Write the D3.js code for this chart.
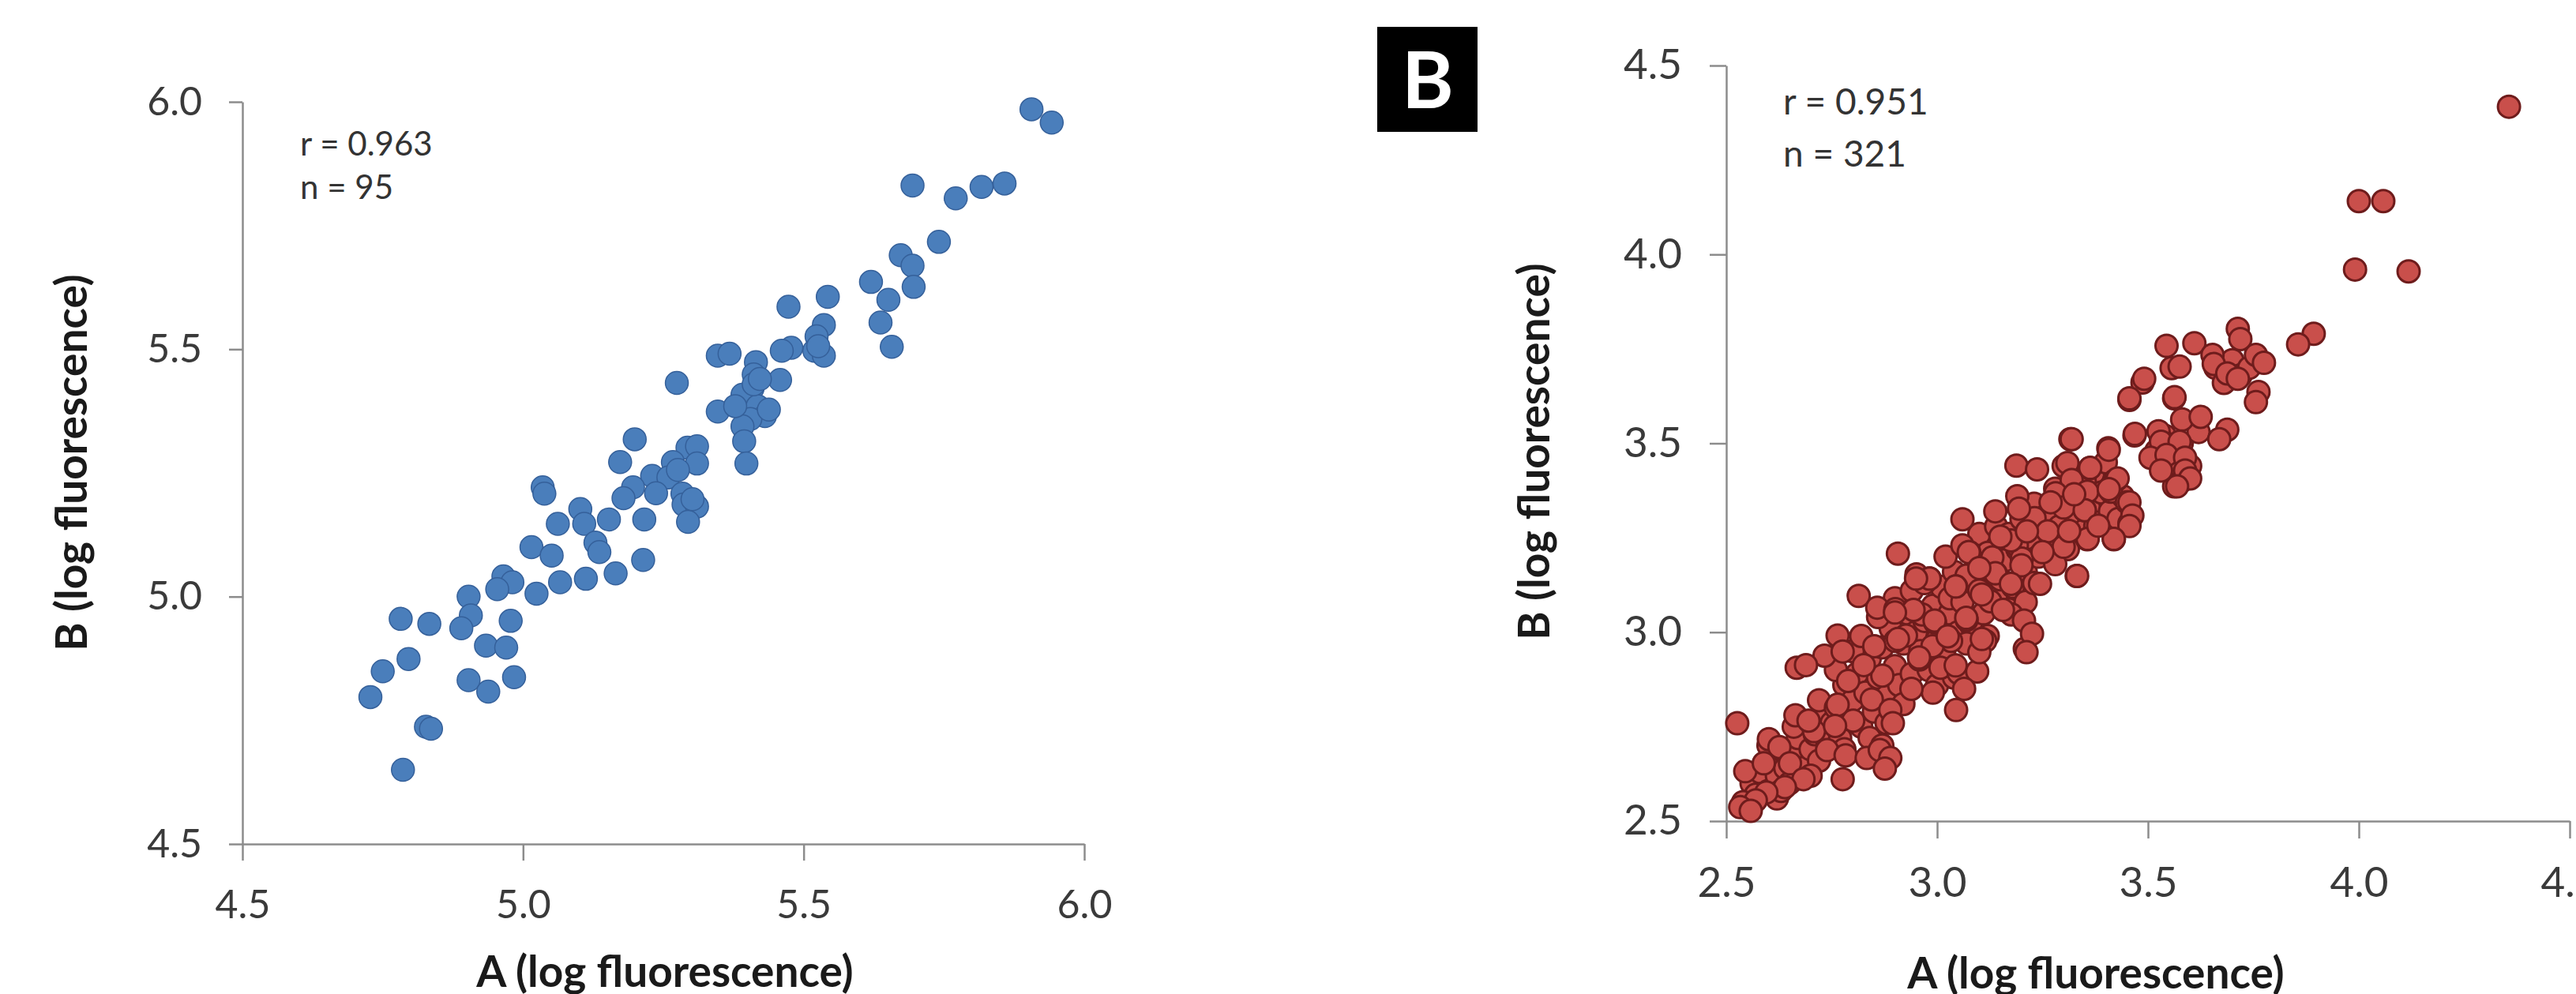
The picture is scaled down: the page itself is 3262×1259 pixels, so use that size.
<!doctype html>
<html lang="en">
  <head>
    <meta charset="UTF-8" />
    <title>A vs B log fluorescence</title>
    <script src="https://d3js.org/d3.v7.min.js"></script>
    <style>
      body {
        margin: 0;
        padding: 0;
        background: #fff;
      }

      .axis path,
      .axis line {
        fill: none;
        stroke: #8c8c8c;
        stroke-width: 2.5px;
      }

      .axis text {
        font-family: Lato, 'Open Sans', sans-serif;
        fill: #3a3a3a;
      }

      .title {
        font-family: Lato, 'Open Sans', sans-serif;
        font-weight: bold;
        font-size: 55px;
        fill: #1a1a1a;
      }

      .stat {
        font-family: Lato, 'Open Sans', sans-serif;
        fill: #333;
      }
    </style>
  </head>
  <body>
    <svg id="chart" width="3262" height="1259"></svg>

    <script>
      // panel A (left): 95 points
      const leftTicks = [4.5, 5.0, 5.5, 6.0];
      const leftStats = ['r = 0.963', 'n = 95'];
      const leftPoints = [
        [5.906, 5.985], [5.942, 5.958], [5.694, 5.831], [5.771, 5.805],
        [5.817, 5.828], [5.858, 5.835], [5.741, 5.717], [5.673, 5.69],
        [5.694, 5.669], [5.696, 5.626], [5.62, 5.636], [5.651, 5.6],
        [5.543, 5.606], [5.473, 5.586], [5.637, 5.554], [5.657, 5.505],
        [5.536, 5.549], [5.523, 5.526], [5.519, 5.497], [5.536, 5.487],
        [5.478, 5.503], [5.461, 5.497], [5.458, 5.438], [5.415, 5.474],
        [5.411, 5.449], [5.409, 5.421], [5.347, 5.487], [5.368, 5.491],
        [5.274, 5.432], [5.391, 5.408], [5.418, 5.385], [5.431, 5.365],
        [5.347, 5.374], [5.405, 5.359], [5.391, 5.344], [5.394, 5.314],
        [5.398, 5.269], [5.199, 5.318], [5.173, 5.272], [5.293, 5.301],
        [5.31, 5.304], [5.267, 5.272], [5.31, 5.269], [5.23, 5.244],
        [5.259, 5.241], [5.196, 5.221], [5.237, 5.209], [5.179, 5.199],
        [5.284, 5.208], [5.286, 5.186], [5.31, 5.182], [5.294, 5.151],
        [5.216, 5.156], [5.035, 5.221], [5.038, 5.208], [5.102, 5.177],
        [5.109, 5.147], [5.153, 5.156], [5.062, 5.147], [5.129, 5.109],
        [5.136, 5.09], [5.214, 5.074], [5.015, 5.1], [5.051, 5.083],
        [5.165, 5.047], [5.066, 5.029], [5.112, 5.036], [4.965, 5.041],
        [4.981, 5.029], [4.954, 5.015], [5.024, 5.006], [4.903, 5.0],
        [4.907, 4.962], [4.89, 4.936], [4.978, 4.951], [4.934, 4.901],
        [4.97, 4.897], [4.782, 4.955], [4.833, 4.945], [4.796, 4.874],
        [4.75, 4.849], [4.728, 4.797], [4.903, 4.831], [4.938, 4.808],
        [4.984, 4.837], [4.827, 4.737], [4.836, 4.733], [4.786, 4.65],
        [5.411, 5.429], [5.422, 5.44], [5.378, 5.385], [5.438, 5.378],
        [5.526, 5.506], [5.276, 5.256], [5.302, 5.197],
      ];

      // panel B (right): 321 points, split by region
      const rightTicks = [2.5, 3.0, 3.5, 4.0, 4.5];
      const rightStats = ['r = 0.951', 'n = 321'];

      // points mostly hidden inside the dense band
      const rightCore = [
        [2.56, 2.6], [2.58, 2.63], [2.6, 2.58], [2.61, 2.66], [2.62, 2.62],
        [2.63, 2.69], [2.64, 2.64], [2.65, 2.6], [2.57, 2.57], [2.6, 2.7],
        [2.62, 2.56], [2.66, 2.67], [2.67, 2.72], [2.68, 2.64], [2.69, 2.76],
        [2.7, 2.69], [2.71, 2.73], [2.72, 2.66], [2.73, 2.79], [2.74, 2.71],
        [2.7, 2.62], [2.75, 2.76], [2.66, 2.75], [2.72, 2.82], [2.76, 2.8],
        [2.77, 2.72], [2.78, 2.86], [2.79, 2.77], [2.8, 2.82], [2.81, 2.89],
        [2.82, 2.75], [2.83, 2.84], [2.84, 2.93], [2.85, 2.79], [2.78, 2.69],
        [2.8, 2.95], [2.82, 2.99], [2.84, 2.72], [2.76, 2.9], [2.86, 2.88],
        [2.87, 2.96], [2.88, 2.83], [2.89, 3.01], [2.9, 2.91], [2.91, 2.86],
        [2.92, 2.97], [2.93, 3.05], [2.94, 2.89], [2.95, 3.0], [2.86, 3.04],
        [2.88, 2.76], [2.9, 3.09], [2.92, 2.81], [2.94, 3.11], [2.87, 2.7],
        [2.96, 2.95], [2.97, 3.03], [2.98, 2.9], [2.99, 3.07], [3.0, 2.98],
        [3.01, 3.12], [3.02, 2.93], [3.03, 3.05], [3.04, 3.16], [3.05, 3.0],
        [2.97, 3.13], [3.0, 2.86], [3.02, 3.2], [3.04, 2.88], [2.99, 2.84],
        [3.03, 3.09], [3.06, 3.08], [3.07, 3.15], [3.08, 3.02], [3.09, 3.2],
        [3.1, 3.11], [3.11, 3.05], [3.12, 3.17], [3.13, 3.24], [3.14, 3.09],
        [3.15, 3.14], [3.07, 2.97], [3.1, 3.26], [3.12, 2.99], [3.14, 3.28],
        [3.06, 3.23], [3.16, 3.19], [3.17, 3.26], [3.18, 3.12], [3.19, 3.22],
        [3.2, 3.3], [3.21, 3.16], [3.22, 3.25], [3.23, 3.34], [3.24, 3.2],
        [3.25, 3.28], [3.17, 3.06], [3.19, 3.36], [3.21, 3.08], [3.23, 3.13],
        [3.26, 3.31], [3.27, 3.24], [3.28, 3.38], [3.29, 3.28], [3.3, 3.34],
        [3.31, 3.22], [3.32, 3.4], [3.33, 3.3], [3.34, 3.36], [3.35, 3.27],
        [3.28, 3.18], [3.3, 3.44], [3.36, 3.33], [3.37, 3.42], [3.38, 3.29],
        [3.39, 3.37], [3.4, 3.45], [3.41, 3.32], [3.42, 3.4], [3.43, 3.3],
        [3.44, 3.36], [3.52, 3.48], [3.54, 3.52], [3.56, 3.45], [3.58, 3.5],
        [3.6, 3.44], [3.62, 3.53], [3.66, 3.7], [3.7, 3.72], [3.72, 3.68],
        [3.74, 3.7], [3.68, 3.66], [3.58, 3.4], [2.54, 2.55], [2.63, 2.58],
        [3.12, 3.21], [3.35, 3.4],
      ];

      const rightLower = [
        [2.526, 2.759], [2.814, 3.096], [2.858, 3.065], [2.901, 3.061],
        [2.764, 2.991], [2.733, 2.938], [2.776, 2.949], [2.667, 2.906],
        [2.689, 2.913], [2.951, 3.153], [2.982, 3.142], [3.076, 3.212],
        [3.139, 3.156], [3.045, 3.121], [3.07, 3.033], [2.995, 3.026],
        [2.901, 2.977], [2.851, 2.963], [2.958, 2.928], [3.008, 2.906],
        [3.051, 2.892], [3.095, 2.896], [3.064, 2.85], [3.045, 2.794],
        [2.939, 2.85], [2.87, 2.885], [2.789, 2.871], [2.845, 2.822],
        [2.889, 2.794], [2.895, 2.759], [2.764, 2.808], [2.801, 2.766],
        [2.664, 2.78], [2.708, 2.738], [2.758, 2.752], [2.601, 2.717],
        [2.626, 2.696], [2.739, 2.688], [2.783, 2.674], [2.833, 2.667],
        [2.864, 2.688], [2.889, 2.667], [2.876, 2.639], [2.776, 2.611],
        [2.545, 2.632], [2.589, 2.653], [2.651, 2.653], [2.683, 2.611],
        [2.639, 2.59], [2.595, 2.576], [2.57, 2.555], [2.533, 2.537],
        [2.558, 2.527], [2.695, 2.766], [2.926, 2.991], [3.114, 2.977],
        [3.176, 3.047], [3.189, 3.23], [3.126, 3.082], [3.033, 2.977],
        [2.964, 3.047], [2.989, 2.963], [2.826, 2.913], [3.208, 2.956],
        [3.126, 3.165], [3.201, 3.195],
      ];

      const rightMiddle = [
        [3.456, 3.615], [3.487, 3.661], [3.562, 3.619], [3.468, 3.521],
        [3.531, 3.511], [3.518, 3.462], [3.556, 3.448], [3.562, 3.386],
        [3.316, 3.511], [3.406, 3.487], [3.188, 3.441], [3.237, 3.431],
        [3.309, 3.448], [3.362, 3.434], [3.425, 3.403], [3.319, 3.403],
        [3.281, 3.368], [3.356, 3.372], [3.412, 3.372], [3.45, 3.344],
        [3.456, 3.288], [3.419, 3.246], [3.35, 3.323], [3.3, 3.33],
        [3.231, 3.302], [3.138, 3.32], [3.06, 3.299], [2.907, 3.208],
        [3.194, 3.327], [3.262, 3.267], [3.175, 3.243], [3.356, 3.246],
        [3.3, 3.226], [3.331, 3.149], [3.25, 3.212], [3.2, 3.177],
        [3.131, 3.198], [3.075, 3.212], [3.138, 3.156], [3.244, 3.128],
        [3.044, 3.121], [2.982, 3.142], [2.95, 3.142], [3.156, 3.059],
        [3.206, 3.031], [3.225, 2.996], [3.212, 2.947], [3.069, 3.038],
        [2.994, 3.031], [2.944, 3.059], [2.9, 3.052], [2.907, 2.982],
        [2.957, 2.933], [3.044, 2.912], [3.1, 2.947], [3.106, 2.982],
        [3.106, 3.1], [3.025, 2.989], [3.375, 3.281], [3.213, 3.267],
        [3.15, 3.253], [3.1, 3.17], [3.175, 3.128], [3.269, 3.344],
      ];

      const rightUpper = [
        [3.713, 3.803], [3.893, 3.79], [3.856, 3.762], [3.719, 3.776],
        [3.756, 3.734], [3.775, 3.713], [3.544, 3.758], [3.61, 3.765],
        [3.653, 3.734], [3.656, 3.71], [3.688, 3.685], [3.713, 3.671],
        [3.556, 3.699], [3.575, 3.703], [3.762, 3.636], [3.756, 3.609],
        [3.491, 3.671], [3.456, 3.619], [3.563, 3.622], [3.581, 3.563],
        [3.625, 3.57], [3.688, 3.536], [3.669, 3.511], [3.469, 3.525],
        [3.525, 3.532], [3.531, 3.504], [3.575, 3.504], [3.506, 3.462],
        [3.544, 3.469], [3.588, 3.462], [3.588, 3.428], [3.6, 3.407],
        [3.569, 3.386], [3.531, 3.428], [3.319, 3.511], [3.407, 3.483],
        [3.363, 3.435], [3.428, 3.407], [3.407, 3.379], [3.456, 3.344],
        [3.463, 3.309], [3.456, 3.281], [3.419, 3.247], [3.357, 3.247],
        [3.313, 3.268], [3.35, 3.323], [3.332, 3.149], [3.325, 3.365],
        [3.382, 3.282],
      ];

      const rightOutliers = [
        [4.356, 4.391], [4.0, 4.141], [4.058, 4.141], [3.991, 3.96],
        [4.118, 3.955],
      ];

      const rightPoints = rightCore.concat(
        rightLower,
        rightMiddle,
        rightUpper,
        rightOutliers,
      );

      const svg = d3.select('#chart');
      const fmt = d3.format('.1f');

      function drawPanel(p) {
        const x = d3.scaleLinear().domain(p.domain).range(p.xRange);
        const y = d3.scaleLinear().domain(p.domain).range(p.yRange);

        const g = svg.append('g');

        g.append('g')
          .attr('class', 'axis')
          .attr('transform', `translate(0,${p.yRange[0]})`)
          .call(
            d3
              .axisBottom(x)
              .tickValues(p.ticks)
              .tickFormat(fmt)
              .tickSize(p.xTick)
              .tickSizeOuter(0)
              .tickPadding(p.xPad),
          )
          .selectAll('text')
          .style('font-size', p.tickFont + 'px');

        g.append('g')
          .attr('class', 'axis')
          .attr('transform', `translate(${p.xRange[0]},0)`)
          .call(
            d3
              .axisLeft(y)
              .tickValues(p.ticks)
              .tickFormat(fmt)
              .tickSize(p.yTick)
              .tickSizeOuter(0)
              .tickPadding(p.yPad),
          )
          .selectAll('text')
          .style('font-size', p.tickFont + 'px');

        g.selectAll('circle')
          .data(p.points)
          .enter()
          .append('circle')
          .attr('cx', (d) => x(d[0]))
          .attr('cy', (d) => y(d[1]))
          .attr('r', p.r)
          .attr('fill', p.fill)
          .attr('stroke', p.stroke)
          .attr('stroke-width', p.strokeWidth);

        g.selectAll('.stat')
          .data(p.stats)
          .enter()
          .append('text')
          .attr('class', 'stat')
          .attr('x', p.statX)
          .attr('y', (d, i) => p.statY + i * p.statGap)
          .style('font-size', p.statFont + 'px')
          .text((d) => d);

        g.append('text')
          .attr('class', 'title')
          .attr('x', p.xTitle[0])
          .attr('y', p.xTitle[1])
          .attr('text-anchor', 'middle')
          .text('A (log fluorescence)');

        g.append('text')
          .attr('class', 'title')
          .attr(
            'transform',
            `translate(${p.yTitle[0]},${p.yTitle[1]}) rotate(-90)`,
          )
          .attr('text-anchor', 'middle')
          .text('B (log fluorescence)');
      }

      drawPanel({
        points: leftPoints,
        ticks: leftTicks,
        stats: leftStats,
        domain: [4.5, 6.0],
        xRange: [307, 1373],
        yRange: [1069, 129],
        xTick: 21,
        yTick: 17,
        xPad: 37,
        yPad: 34,
        tickFont: 50,
        r: 14.5,
        fill: '#4a7ebb',
        stroke: '#35609a',
        strokeWidth: 1.5,
        statX: 380,
        statY: 197,
        statGap: 55,
        statFont: 42,
        xTitle: [842, 1250],
        yTitle: [110, 586],
      });

      drawPanel({
        points: rightPoints,
        ticks: rightTicks,
        stats: rightStats,
        domain: [2.5, 4.5],
        xRange: [2186, 3254],
        yRange: [1040, 83],
        xTick: 22,
        yTick: 21,
        xPad: 36,
        yPad: 35,
        tickFont: 53,
        r: 14,
        fill: '#c94f4b',
        stroke: '#6e1c1c',
        strokeWidth: 3,
        statX: 2258,
        statY: 145,
        statGap: 66,
        statFont: 46,
        xTitle: [2654, 1252],
        yTitle: [1962, 572],
      });

      // panel letter
      svg
        .append('rect')
        .attr('x', 1744)
        .attr('y', 34)
        .attr('width', 127)
        .attr('height', 133)
        .attr('fill', '#000');

      svg
        .append('text')
        .attr('x', 1808)
        .attr('y', 137)
        .attr('text-anchor', 'middle')
        .style('font-family', 'Lato, sans-serif')
        .style('font-weight', 'bold')
        .style('font-size', '100px')
        .style('fill', '#fff')
        .text('B');
    </script>
  </body>
</html>
